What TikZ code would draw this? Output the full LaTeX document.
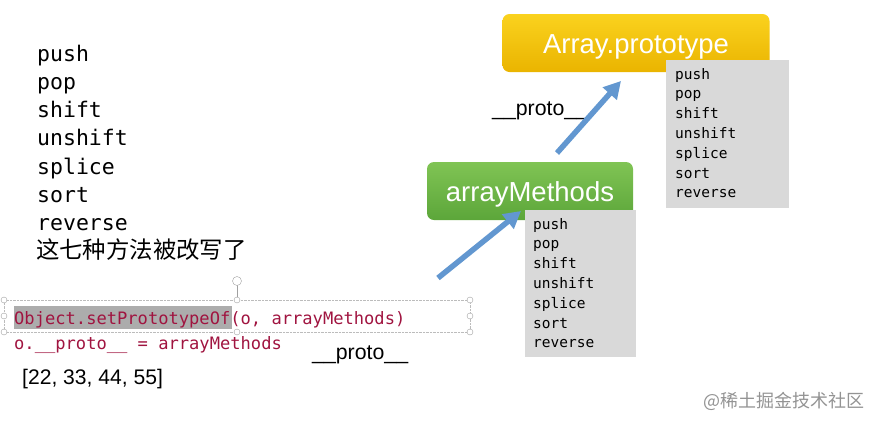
\documentclass[tikz,border=0pt]{standalone}
\usepackage{fontspec}
\setsansfont{Liberation Sans}
\setmonofont{DejaVu Sans Mono}
\newfontfamily\cjk{Noto Sans CJK SC}
\usetikzlibrary{arrows.meta,positioning}
\definecolor{codered}{RGB}{160,20,64}
\definecolor{linkblue}{RGB}{98,151,208}
\definecolor{boxgray}{RGB}{217,217,217}
\definecolor{handlegray}{RGB}{160,160,160}
\definecolor{protoyellowtop}{RGB}{250,210,30}
\definecolor{protoyellowbot}{RGB}{234,180,0}
\definecolor{methgreentop}{RGB}{128,196,84}
\definecolor{methgreenbot}{RGB}{92,166,58}

\begin{document}
\begin{tikzpicture}[
  x=1pt,y=-1pt,
  protobox/.style={rounded corners=7pt,minimum height=58pt,text=white,
    text height=20pt,text depth=0pt,
    font=\sffamily\fontsize{27.5}{27.5}\selectfont},
  methodbox/.style={fill=boxgray,anchor=north west},
  mname/.style={anchor=base west,inner sep=0pt,font=\ttfamily\fontsize{14.5}{14.5}\selectfont},
  bigname/.style={anchor=base west,inner sep=0pt,font=\ttfamily\fontsize{21.5}{21.5}\selectfont},
  code/.style={anchor=base west,inner sep=0pt,text=codered,font=\ttfamily\fontsize{17.1}{17.1}\selectfont},
  label/.style={anchor=base west,inner sep=0pt,font=\sffamily\fontsize{21.3}{21.3}\selectfont},
  handle/.style={circle,draw=handlegray,fill=white,inner sep=0pt,minimum size=6pt},
  link/.style={-{Triangle[length=17pt,width=18pt]},line width=5.5pt,linkblue},
  >=Stealth
]
  \useasboundingbox (0,0) rectangle (879,424);

  % the seven methods
  \foreach \w [count=\i from 0] in {push,pop,shift,unshift,splice,sort,reverse}
    \node[bigname] (m\i) at (37,61+28.3*\i) {\w};
  \node[anchor=base west,inner sep=0pt,font=\cjk\fontsize{23.4}{23.4}\selectfont]
    (note) at (36,258) {这七种方法被改写了};

  % selected text box
  \draw[densely dotted,handlegray!70] (4,300) rectangle (470,332);
  \draw[handlegray] (237,300) -- (237,285);
  \node[handle,minimum size=9pt] (rot) at (237,281) {};
  \foreach \p in {(4,300),(237,300),(470,300),(4,316),(470,316),(4,332),(237,332),(470,332)}
    \node[handle] at \p {};
  \fill[gray!65] (14,306) rectangle (232,329);
  \node[code] (line1) at (14,324) {Object.setPrototypeOf(o, arrayMethods)};
  \node[code] (line2) at (14,349) {o.\_\_proto\_\_ = arrayMethods};
  \node[label,font=\sffamily\fontsize{21.1}{21.1}\selectfont] (arr) at (22,384) {[22, 33, 44, 55]};
  \node[label] (p1) at (312,359) {\_\_proto\_\_};
  \node[label] (p2) at (492,115) {\_\_proto\_\_};

  % prototype chain
  \node[protobox,minimum width=267pt,top color=protoyellowtop,bottom color=protoyellowbot]
    (ap) at (636,43) {Array.prototype};
  \node[protobox,minimum width=206pt,top color=methgreentop,bottom color=methgreenbot]
    (am) at (530,191) {arrayMethods};

  \node[methodbox,minimum width=123pt,minimum height=148pt] (apm) at (666,60) {};
  \foreach \w [count=\i from 0] in {push,pop,shift,unshift,splice,sort,reverse}
    \node[mname] at (675,79+19.8*\i) {\w};
  \node[methodbox,minimum width=111pt,minimum height=147pt] (amm) at (525,210) {};
  \foreach \w [count=\i from 0] in {push,pop,shift,unshift,splice,sort,reverse}
    \node[mname] at (533,229+19.8*\i) {\w};

  \coordinate (t1) at (438,278);
  \coordinate (h1) at (521,211);
  \coordinate (t2) at (557,153);
  \coordinate (h2) at (621,81);
  \draw[link] (t1) -- (h1);
  \draw[link] (t2) -- (h2);

  \node[anchor=base east,inner sep=0pt,text=gray!85,font=\cjk\fontsize{18}{18}\selectfont]
    (wm) at (865,407) {@稀土掘金技术社区};
\end{tikzpicture}
\end{document}
